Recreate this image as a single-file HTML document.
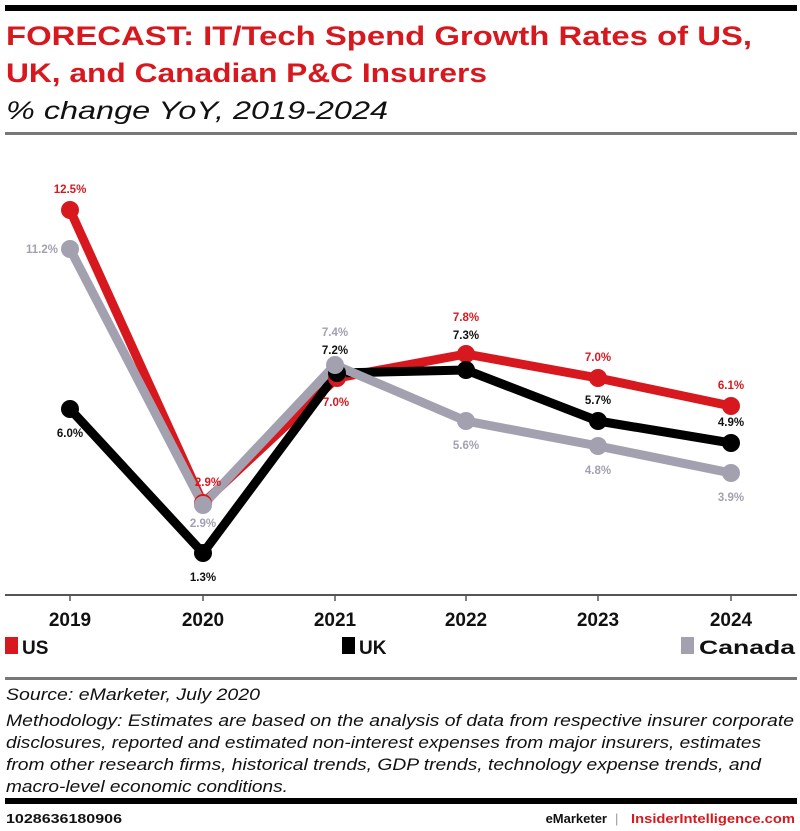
<!DOCTYPE html>
<html><head><meta charset="utf-8"><style>
html,body{margin:0;padding:0;background:#fff;}
svg{display:block;font-family:"Liberation Sans",sans-serif;}
</style></head><body>
<svg width="800" height="831" viewBox="0 0 800 831">
<rect x="5" y="5" width="792" height="6" fill="#000"/>
<g fill="#d7191f" font-weight="bold" font-size="27">
<text x="6" y="45" textLength="746" lengthAdjust="spacingAndGlyphs">FORECAST: IT/Tech Spend Growth Rates of US,</text>
<text x="6" y="82" textLength="481" lengthAdjust="spacingAndGlyphs">UK, and Canadian P&amp;C Insurers</text>
</g>
<text x="6" y="119" font-size="25" font-style="italic" fill="#111" textLength="382" lengthAdjust="spacingAndGlyphs">% change YoY, 2019-2024</text>
<rect x="5" y="132" width="792" height="3" fill="#777"/>

<line x1="5" y1="595" x2="797" y2="595" stroke="#555" stroke-width="2"/>
<g stroke="#555" stroke-width="1.5">
<line x1="70" y1="595" x2="70" y2="601"/><line x1="203" y1="595" x2="203" y2="601"/><line x1="335" y1="595" x2="335" y2="601"/><line x1="466" y1="595" x2="466" y2="601"/><line x1="598" y1="595" x2="598" y2="601"/><line x1="731" y1="595" x2="731" y2="601"/>
</g>
<g font-size="19" font-weight="bold" fill="#111" text-anchor="middle">
<text x="70" y="626">2019</text><text x="203" y="626">2020</text><text x="335" y="626">2021</text><text x="466" y="626">2022</text><text x="598" y="626">2023</text><text x="731" y="626">2024</text>
</g>

<g fill="none" stroke-width="9" stroke-linejoin="round">
<polyline stroke="#d7191f" points="70,210 203,503 337,378 466,354 598,378 731,406"/>
<polyline stroke="#000" points="70,409 203,553 337,373 466,370 598,421 731,443"/>
<polyline stroke="#a3a1b0" points="70,249 203,505 335,365 466,421 598,446 731,473"/>
</g>
<g fill="#d7191f"><circle cx="70" cy="210" r="9"/><circle cx="203" cy="503" r="9"/><circle cx="337" cy="378" r="9"/><circle cx="466" cy="354" r="9"/><circle cx="598" cy="378" r="9"/><circle cx="731" cy="406" r="9"/></g>
<g fill="#000"><circle cx="70" cy="409" r="9"/><circle cx="203" cy="553" r="9"/><circle cx="337" cy="373" r="9"/><circle cx="466" cy="370" r="9"/><circle cx="598" cy="421" r="9"/><circle cx="731" cy="443" r="9"/></g>
<g fill="#a3a1b0"><circle cx="70" cy="249" r="9"/><circle cx="203" cy="505" r="9"/><circle cx="335" cy="365" r="9"/><circle cx="466" cy="421" r="9"/><circle cx="598" cy="446" r="9"/><circle cx="731" cy="473" r="9"/></g>

<g font-size="11.5" font-weight="bold" text-anchor="middle">
<g fill="#d7191f"><text x="70" y="193">12.5%</text><text x="208" y="486">2.9%</text><text x="336" y="406">7.0%</text><text x="466" y="321">7.8%</text><text x="598" y="361">7.0%</text><text x="731" y="389">6.1%</text></g>
<g fill="#111"><text x="70" y="437">6.0%</text><text x="203" y="581">1.3%</text><text x="335" y="354">7.2%</text><text x="466" y="339">7.3%</text><text x="598" y="404">5.7%</text><text x="731" y="426">4.9%</text></g>
<g fill="#a3a1b0"><text x="58" y="253" text-anchor="end">11.2%</text><text x="203" y="527">2.9%</text><text x="335" y="336">7.4%</text><text x="466" y="449">5.6%</text><text x="598" y="474">4.8%</text><text x="731" y="501">3.9%</text></g>
</g>

<g font-size="19" font-weight="bold" fill="#111">
<rect x="5" y="637" width="13" height="17" fill="#d7191f"/><text x="22" y="654">US</text>
<rect x="342" y="637" width="13" height="17" fill="#000"/><text x="359" y="654">UK</text>
<rect x="681" y="637" width="13" height="17" fill="#a3a1b0"/><text x="699" y="654" textLength="96" lengthAdjust="spacingAndGlyphs">Canada</text>
</g>
<rect x="5" y="677" width="792" height="3" fill="#777"/>
<g font-size="17" font-style="italic" fill="#111">
<text x="6" y="700" textLength="254" lengthAdjust="spacingAndGlyphs">Source: eMarketer, July 2020</text>
<text x="6" y="726" textLength="788" lengthAdjust="spacingAndGlyphs">Methodology: Estimates are based on the analysis of data from respective insurer corporate</text>
<text x="6" y="748" textLength="755" lengthAdjust="spacingAndGlyphs">disclosures, reported and estimated non-interest expenses from major insurers, estimates</text>
<text x="6" y="770" textLength="755" lengthAdjust="spacingAndGlyphs">from other research firms, historical trends, GDP trends, technology expense trends, and</text>
<text x="6" y="792" textLength="282" lengthAdjust="spacingAndGlyphs">macro-level economic conditions.</text>
</g>
<rect x="5" y="798" width="792" height="6" fill="#000"/>
<text x="6" y="823" font-size="13" font-weight="bold" fill="#111" textLength="116" lengthAdjust="spacingAndGlyphs">1028636180906</text>
<text x="607" y="823" font-size="13" font-weight="bold" fill="#111" text-anchor="end">eMarketer</text>
<text x="615" y="823" font-size="13" fill="#999">|</text>
<text x="795" y="823" font-size="13" font-weight="bold" fill="#d7191f" text-anchor="end" textLength="164" lengthAdjust="spacingAndGlyphs">InsiderIntelligence.com</text>
</svg>
</body></html>
